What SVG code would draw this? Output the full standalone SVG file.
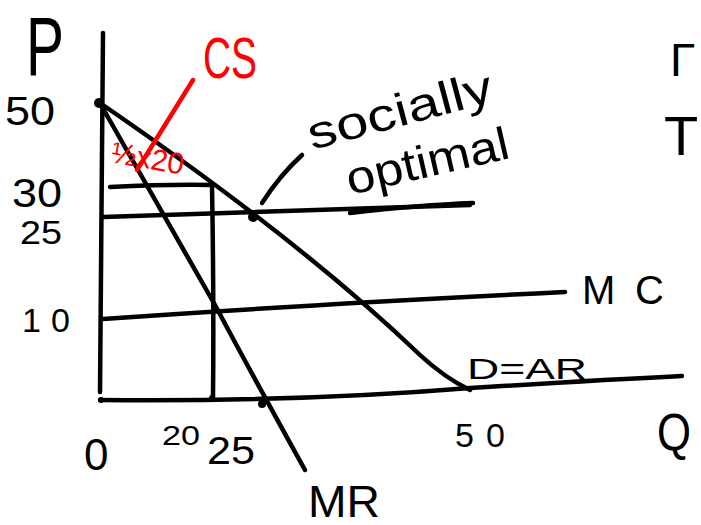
<svg xmlns="http://www.w3.org/2000/svg" width="701" height="525" viewBox="0 0 701 525">
<style>
.ln{fill:none;stroke:#000;stroke-width:4.5;stroke-linecap:round;stroke-linejoin:round}
.rd{fill:none;stroke:#f00;stroke-width:4.5;stroke-linecap:round;stroke-linejoin:round}
.t{font-family:"Liberation Sans",Arial,sans-serif;fill:#000}
.tr{font-family:"Liberation Sans",Arial,sans-serif;fill:#f00}
</style>
<rect width="701" height="525" fill="#fff"/>
<g id="axes">
<path class="ln" d="M103,33 Q101,200 100,392"/>
<path class="ln" d="M100,400 Q300,402 470,388 Q600,380 682,376"/>
<text class="t" x="26" y="75" font-size="84" textLength="38" lengthAdjust="spacingAndGlyphs">P</text>
<text class="t" x="657" y="450" font-size="52" textLength="34" lengthAdjust="spacingAndGlyphs">Q</text>
</g>
<g id="connectors">
<path id="demand" class="ln" d="M100,103 Q300,240 420,355 Q445,378 470,390"/>
<path id="mr" class="ln" d="M101,105 L215,305 Q255,380 305,470"/>
<path id="mc" class="ln" d="M103,319 Q300,305 565,292"/>
<path id="p25" class="ln" d="M103,217 Q300,210 470,205"/>
<path id="p30" class="ln" d="M110,187 Q170,184 213,185"/>
<path id="q20" class="ln" d="M212,185 Q214,300 213,398"/>
<path id="pointer" class="ln" d="M262,203 Q280,175 302,155"/>
<path id="underline" class="ln" d="M350,213 Q420,205 473,203"/>
<path id="cs-pointer" class="rd" d="M193,80 L137,170"/>
<circle cx="99" cy="103" r="5"/>
<circle cx="253" cy="217" r="5"/>
<circle cx="262" cy="404" r="4"/>
<circle cx="101" cy="400" r="3"/>
<circle cx="212" cy="398" r="3"/>
</g>
<g id="p-labels">
<text class="t" x="5" y="125" font-size="40" textLength="50" lengthAdjust="spacingAndGlyphs">50</text>
<text class="t" x="12" y="207" font-size="40" textLength="50" lengthAdjust="spacingAndGlyphs">30</text>
<text class="t" x="20" y="244" font-size="34" textLength="42" lengthAdjust="spacingAndGlyphs">25</text>
<text class="t" x="22" y="332" font-size="34" textLength="48" lengthAdjust="spacing">10</text>
</g>
<g id="q-labels">
<text class="t" x="84" y="470" font-size="44">0</text>
<text class="t" x="162" y="445" font-size="28" textLength="38" lengthAdjust="spacingAndGlyphs">20</text>
<text class="t" x="207" y="464" font-size="38" textLength="48" lengthAdjust="spacingAndGlyphs">25</text>
<text class="t" x="455" y="447" font-size="34" textLength="50" lengthAdjust="spacing">50</text>
</g>
<g id="label-mr"><text class="t" x="308" y="517" font-size="44" textLength="72" lengthAdjust="spacingAndGlyphs">MR</text></g>
<g id="label-mc"><text class="t" x="582" y="304" font-size="40" textLength="82" lengthAdjust="spacing">MC</text></g>
<g id="label-d"><text class="t" x="467" y="379" font-size="30" textLength="120" lengthAdjust="spacingAndGlyphs">D=AR</text></g>
<g id="label-social">
<text class="t" font-size="46" textLength="190" lengthAdjust="spacingAndGlyphs" transform="translate(312,150) rotate(-15)">socially</text>
<text class="t" font-size="46" textLength="166" lengthAdjust="spacingAndGlyphs" transform="translate(350,195) rotate(-13)">optimal</text>
</g>
<g id="label-cs">
<text class="tr" x="203" y="78" font-size="58" textLength="54" lengthAdjust="spacingAndGlyphs">CS</text>
<text class="tr" font-size="30" transform="translate(110,162) rotate(10)">½x20</text>
</g>
<g id="edge">
<text class="t" x="670" y="76" font-size="46">Γ</text>
<text class="t" x="664" y="155" font-size="56">T</text>
</g>
</svg>
